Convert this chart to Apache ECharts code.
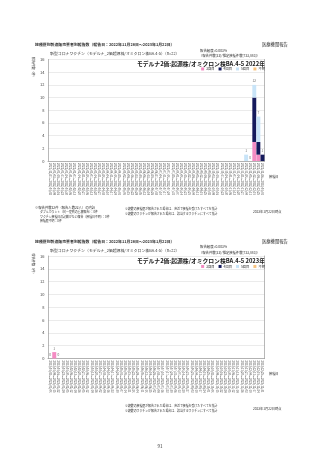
<!DOCTYPE html>
<html><head><meta charset="utf-8">
<script src="https://cdn.jsdelivr.net/npm/echarts@6/dist/echarts.min.js"></script>
<style>html,body{margin:0;padding:0;background:#fff}#c{width:320px;height:453px}</style>
</head><body><div id="c"></div>
<script>
// ---- data ----
const weekStarts2022 = ["2021/12/27","2022/01/03","2022/01/10","2022/01/17","2022/01/24","2022/01/31","2022/02/07","2022/02/14","2022/02/21","2022/02/28","2022/03/07","2022/03/14","2022/03/21","2022/03/28","2022/04/04","2022/04/11","2022/04/18","2022/04/25","2022/05/02","2022/05/09","2022/05/16","2022/05/23","2022/05/30","2022/06/06","2022/06/13","2022/06/20","2022/06/27","2022/07/04","2022/07/11","2022/07/18","2022/07/25","2022/08/01","2022/08/08","2022/08/15","2022/08/22","2022/08/29","2022/09/05","2022/09/12","2022/09/19","2022/09/26","2022/10/03","2022/10/10","2022/10/17","2022/10/24","2022/10/31","2022/11/07","2022/11/14","2022/11/21","2022/11/28","2022/12/05","2022/12/12","2022/12/19","2022/12/26"];
const weekStarts2023 = ["2023/01/02","2023/01/09","2023/01/16","2023/01/23","2023/01/30","2023/02/06","2023/02/13","2023/02/20","2023/02/27","2023/03/06","2023/03/13","2023/03/20","2023/03/27","2023/04/03","2023/04/10","2023/04/17","2023/04/24","2023/05/01","2023/05/08","2023/05/15","2023/05/22","2023/05/29","2023/06/05","2023/06/12","2023/06/19","2023/06/26","2023/07/03","2023/07/10","2023/07/17","2023/07/24","2023/07/31","2023/08/07","2023/08/14","2023/08/21","2023/08/28","2023/09/04","2023/09/11","2023/09/18","2023/09/25","2023/10/02","2023/10/09","2023/10/16","2023/10/23","2023/10/30","2023/11/06","2023/11/13","2023/11/20","2023/11/27","2023/12/04","2023/12/11","2023/12/18","2023/12/25"];

const seriesNames = ["3回目","4回目","5回目","不明"];

const dose3_2022 = [0,0,0,0,0,0,0,0,0,0, 0,0,0,0,0,0,0,0,0,0, 0,0,0,0,0,0,0,0,0,0, 0,0,0,0,0,0,0,0,0,0, 0,0,0,0,0,0,0,0,0,0, 3,1,0];
const dose4_2022 = [0,0,0,0,0,0,0,0,0,0, 0,0,0,0,0,0,0,0,0,0, 0,0,0,0,0,0,0,0,0,0, 0,0,0,0,0,0,0,0,0,0, 0,0,0,0,0,0,0,0,0,0, 7,2,1];
const dose5_2022 = [0,0,0,0,0,0,0,0,0,0, 0,0,0,0,0,0,0,0,0,0, 0,0,0,0,0,0,0,0,0,0, 0,0,0,0,0,0,0,0,0,0, 0,0,0,0,0,0,0,0,1,0, 2,4,0];
const unk_2022   = [0,0,0,0,0,0,0,0,0,0, 0,0,0,0,0,0,0,0,0,0, 0,0,0,0,0,0,0,0,0,0, 0,0,0,0,0,0,0,0,0,0, 0,0,0,0,0,0,0,0,0,0, 0,0,0];

const dose3_2023 = [0,1,0,0,0,0,0,0,0,0, 0,0,0,0,0,0,0,0,0,0, 0,0,0,0,0,0,0,0,0,0, 0,0,0,0,0,0,0,0,0,0, 0,0,0,0,0,0,0,0,0,0, 0,0];
const dose4_2023 = [0,0,0,0,0,0,0,0,0,0, 0,0,0,0,0,0,0,0,0,0, 0,0,0,0,0,0,0,0,0,0, 0,0,0,0,0,0,0,0,0,0, 0,0,0,0,0,0,0,0,0,0, 0,0];
const dose5_2023 = [0,0,0,0,0,0,0,0,0,0, 0,0,0,0,0,0,0,0,0,0, 0,0,0,0,0,0,0,0,0,0, 0,0,0,0,0,0,0,0,0,0, 0,0,0,0,0,0,0,0,0,0, 0,0];
const unk_2023   = [0,0,0,0,0,0,0,0,0,0, 0,0,0,0,0,0,0,0,0,0, 0,0,0,0,0,0,0,0,0,0, 0,0,0,0,0,0,0,0,0,0, 0,0,0,0,0,0,0,0,0,0, 0,0];

// weeks inside the reporting period (their totals are labelled)
const labelled2022 = ["2022/11/28","2022/12/05","2022/12/12","2022/12/19","2022/12/26"];
const labelled2023 = ["2023/01/02","2023/01/09","2023/01/16"];

const yTicks = {min:0, max:16, interval:2};

// ---- helpers ----
const FONT = '"Noto Sans CJK JP","Noto Sans",sans-serif';
const COLORS = ['#f48cc3','#151a5c','#c8e4f8','#f8c27e'];
function pad(n){return (n<10?'0':'')+n;}
function weekLabel(s){
  const p = s.split('/').map(Number);
  const d = new Date(Date.UTC(p[0],p[1]-1,p[2]+6));
  return s + '～' + d.getUTCFullYear()+'/'+pad(d.getUTCMonth()+1)+'/'+pad(d.getUTCDate());
}
function totals(cats, arrs, labelled){
  return cats.map((c,i)=> labelled.indexOf(c)>=0 ? arrs.reduce((a,s)=>a+s[i],0) : '-');
}

const top1 = 59.5, h1 = 101.5, top2 = 256, h2 = 102.5, left = 48, w = 216.5;

function xAxis(cats, gi){
  return {type:'category', gridIndex:gi, data:cats.map(weekLabel),
    axisLine:{lineStyle:{color:'#9a9a9a', width:0.7}}, axisTick:{show:false},
    axisLabel:{interval:0, rotate:-90, fontSize:2.8, color:'#444', margin:2, fontFamily:FONT}};
}
function yAxisL(gi){
  return {type:'value', gridIndex:gi, min:yTicks.min, max:yTicks.max, interval:yTicks.interval,
    axisLine:{show:true, lineStyle:{color:'#9a9a9a', width:0.7}}, axisTick:{show:false},
    axisLabel:{fontSize:4, color:'#444', margin:3.5, fontFamily:FONT},
    splitLine:{lineStyle:{color:'#dedede', width:0.6}}};
}
function yAxisR(gi){
  return {type:'value', gridIndex:gi, position:'right', min:yTicks.min, max:yTicks.max, interval:yTicks.interval,
    axisLine:{show:true, lineStyle:{color:'#9a9a9a', width:0.7}}, axisTick:{show:false},
    axisLabel:{show:false}, splitLine:{show:false}};
}
function bars(arrs, xi, yi, stack){
  return arrs.map((d,k)=>({name:seriesNames[k], type:'bar', stack:stack, xAxisIndex:xi, yAxisIndex:yi,
    data:d, barCategoryGap:'4%', itemStyle:{color:COLORS[k]}, emphasis:{disabled:true}}));
}
function totalLabels(cats, arrs, labelled, xi, yi){
  return {type:'scatter', xAxisIndex:xi, yAxisIndex:yi, symbolSize:0.01, data:totals(cats, arrs, labelled),
    itemStyle:{color:'rgba(0,0,0,0)'},
    label:{show:true, position:'top', distance:2, fontSize:3.2, color:'#444', fontFamily:FONT}};
}
function legend(top){
  return {top:top, right:55, padding:0, itemWidth:3, itemHeight:3, itemGap:4, icon:'rect', selectedMode:false,
    data:seriesNames, textStyle:{fontSize:3.3, color:'#333', fontFamily:FONT, padding:[0,0,0,-3]}};
}
function txt(t, x, y, fs, opt){
  opt = opt||{};
  return {type:'text', x:x, y:y, rotation:opt.rot||0, silent:true,
    style:{text:t, fontSize:fs, fontFamily:FONT, fontWeight:opt.bold?'bold':'normal', fill:opt.color||'#333',
      textAlign:opt.align||'left', textVerticalAlign:'middle'}};
}

const arrs22 = [dose3_2022,dose4_2022,dose5_2022,unk_2022];
const arrs23 = [dose3_2023,dose4_2023,dose5_2023,unk_2023];

function chartTexts(dy, year, withLeftNote){
  const g = [
    txt('接種歴別製造販売業者別報告数（報告日：2022年11月28日～2023年1月22日）', 35, 44.7+dy, 3.9, {bold:true}),
    txt('医療機関報告', 262, 44.7+dy, 4.3),
    txt('新型コロナワクチン（モデルナ_2価起源株/オミクロン株BA.4-5）（n=22）', 50, 54+dy, 3.9),
    txt('報告頻度=0.003%', 200, 50.5+dy, 3.4),
    txt('（報告件数[22]/推定接種件数[733,883]）', 199, 56.2+dy, 3.3),
    txt('モデルナ2価:起源株/オミクロン株BA.4-5 '+year+'年', 265, 63.8+dy, 5.8, {bold:true, align:'right', color:'#222'}),
    txt('報告件数（件）', 33, 68+dy, 3.2, {align:'center', rot:-Math.PI/2}),
    txt('接種日', 269, 177+dy, 3.2),
    txt('※複数の接種歴が報告された場合は、直近で接種を受けたすべてを集計', 125, 209+dy, 2.9),
    txt('※複数のワクチンが報告された場合は、該当するワクチンにすべて集計', 125, 214+dy, 2.9),
    txt('2023年1月22日時点', 253, 212+dy, 3.2)
  ];
  if (withLeftNote){
    g.push(txt('※報告件数22件（報告人数22人）の内訳', 35, 207.3, 3.3));
    g.push(txt('ダブルカウント（同一症例の重複報告）：0件', 40, 212.3, 2.9));
    g.push(txt('ワクチン接種日の記載がない報告（接種日不明）：0件', 40, 216.7, 2.9));
    g.push(txt('接種歴不明：0件', 40, 221, 2.9));
  }
  return g;
}

const option = {
  animation:false,
  textStyle:{fontFamily:FONT},
  grid:[{left:left, top:top1, width:w, height:h1}, {left:left, top:top2, width:w, height:h2}],
  legend:[legend(67.3), legend(264.8)],
  xAxis:[xAxis(weekStarts2022,0), xAxis(weekStarts2023,1)],
  yAxis:[yAxisL(0), yAxisR(0), yAxisL(1), yAxisR(1)],
  series:[].concat(
    bars(arrs22,0,0,'s22'),
    [totalLabels(weekStarts2022, arrs22, labelled2022, 0, 0)],
    bars(arrs23,1,2,'s23'),
    [totalLabels(weekStarts2023, arrs23, labelled2023, 1, 2)]
  ),
  graphic:[].concat(
    chartTexts(0,'2022',true),
    chartTexts(196.5,'2023',false),
    [txt('91', 160, 446, 4.5, {align:'center'})]
  )
};
const chart = echarts.init(document.getElementById('c'), null, {renderer:'canvas'});
chart.setOption(option);
</script>
</body></html>
